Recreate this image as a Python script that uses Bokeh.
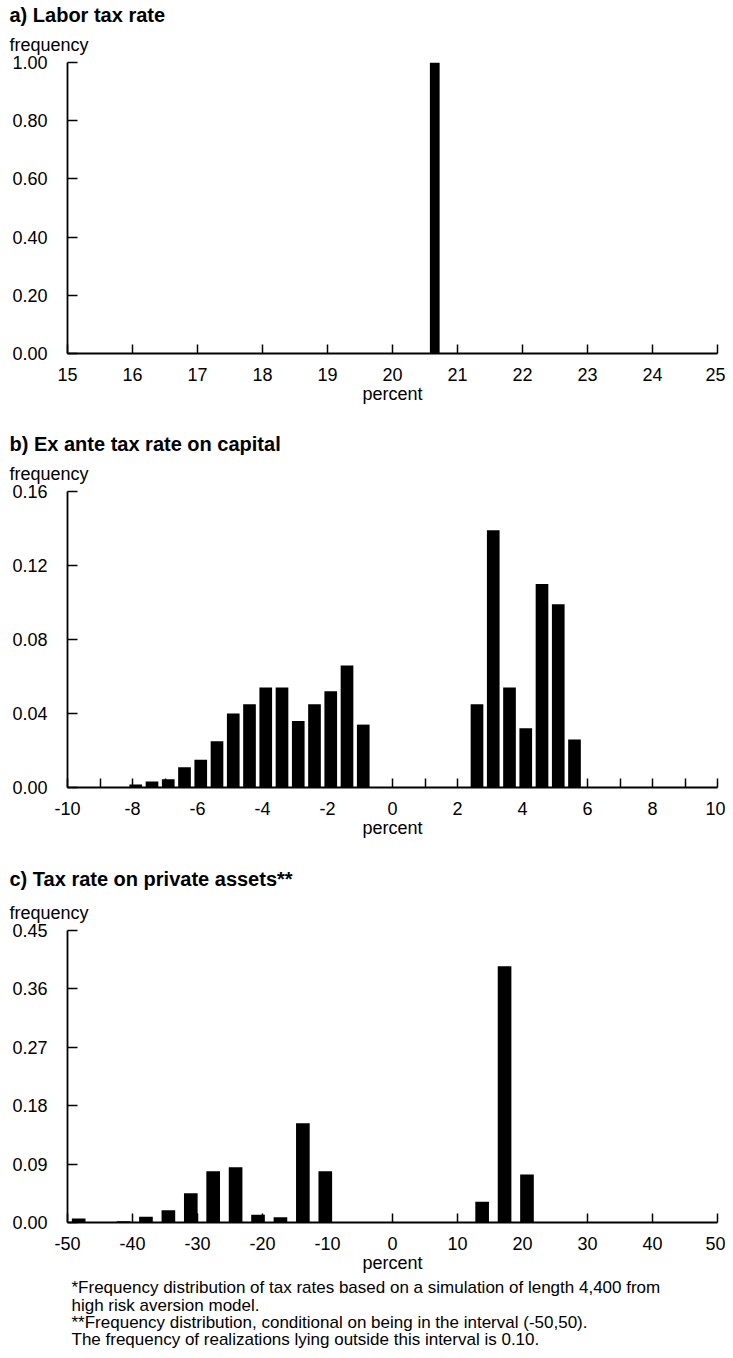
from bokeh.plotting import figure
from bokeh.models import Range1d, FixedTicker, Title, PrintfTickFormatter
from bokeh.layouts import column
from bokeh.embed import file_html
from bokeh.resources import INLINE

FONT = "Liberation Sans"

# ---------------- data ----------------
# a) Labor tax rate
labor_x = [20.65]
labor_freq = [1.00]
labor_xticks = [15, 16, 17, 18, 19, 20, 21, 22, 23, 24, 25]
labor_xtick_labels = ["15", "16", "17", "18", "19", "20", "21", "22", "23", "24", "25"]
labor_yticks = [0.0, 0.2, 0.4, 0.6, 0.8, 1.0]
labor_ytick_labels = ["0.00", "0.20", "0.40", "0.60", "0.80", "1.00"]

# b) Ex ante tax rate on capital
capital_x = [-7.9, -7.4, -6.9, -6.4, -5.9, -5.4, -4.9, -4.4, -3.9, -3.4, -2.9, -2.4,
             -1.9, -1.4, -0.9, 2.6, 3.1, 3.6, 4.1, 4.6, 5.1, 5.6]
capital_freq = [0.0016, 0.0032, 0.0045, 0.011, 0.015, 0.025, 0.040, 0.045, 0.054, 0.054,
                0.036, 0.045, 0.052, 0.066, 0.034, 0.045, 0.139, 0.054, 0.032, 0.110,
                0.099, 0.026]
capital_xticks = [-10, -8, -6, -4, -2, 0, 2, 4, 6, 8, 10]
capital_xtick_labels = ["-10", "-8", "-6", "-4", "-2", "0", "2", "4", "6", "8", "10"]
capital_xminor = [-9, -7, -5, -3, -1, 1, 3, 5, 7, 9]
capital_yticks = [0.0, 0.04, 0.08, 0.12, 0.16]
capital_ytick_labels = ["0.00", "0.04", "0.08", "0.12", "0.16"]

# c) Tax rate on private assets
assets_x = [-48.28, -41.38, -37.93, -34.48, -31.03, -27.59, -24.14, -20.69, -17.24,
            -13.79, -10.34, 13.79, 17.24, 20.69]
assets_freq = [0.006, 0.002, 0.009, 0.019, 0.045, 0.079, 0.085, 0.012, 0.008,
               0.153, 0.079, 0.032, 0.395, 0.074]
assets_xticks = [-50, -40, -30, -20, -10, 0, 10, 20, 30, 40, 50]
assets_xtick_labels = ["-50", "-40", "-30", "-20", "-10", "0", "10", "20", "30", "40", "50"]
assets_yticks = [0.0, 0.09, 0.18, 0.27, 0.36, 0.45]
assets_ytick_labels = ["0.00", "0.09", "0.18", "0.27", "0.36", "0.45"]

footnotes = [
    "*Frequency distribution of tax rates based on a simulation of length 4,400 from",
    "high risk aversion model.",
    "**Frequency distribution, conditional on being in the interval (-50,50).",
    "The frequency of realizations lying outside this interval is 0.10.",
]

FRAME_W = 650
LEFT = 67
RIGHT = 8


def make_panel(title, xs, tops, bar_w, x_ticks, x_labels, x_minor,
               y_ticks, y_labels, frame_h, b_top, b_bottom, freq_standoff, title_standoff):
    x0, x1 = x_ticks[0], x_ticks[-1]
    y1 = y_ticks[-1]
    p = figure(frame_width=FRAME_W, frame_height=frame_h,
               x_range=Range1d(x0, x1), y_range=Range1d(0, y1),
               output_backend="svg", toolbar_location=None,
               min_border_left=LEFT, min_border_right=RIGHT,
               min_border_top=b_top, min_border_bottom=b_bottom)
    p.outline_line_color = None
    p.xgrid.visible = False
    p.ygrid.visible = False
    p.background_fill_color = "white"
    p.border_fill_color = "white"

    p.vbar(x=xs, top=tops, width=bar_w, bottom=0, fill_color="black", line_color=None)

    xa = p.xaxis[0]
    xa.ticker = FixedTicker(ticks=x_ticks, minor_ticks=x_minor)
    xa.major_label_overrides = {t: l for t, l in zip(x_ticks, x_labels)}
    xa.major_tick_in = 9
    xa.major_tick_out = 0
    xa.minor_tick_in = 9
    xa.minor_tick_out = 0
    xa.major_tick_line_width = 1.5
    xa.minor_tick_line_width = 1.5
    xa.minor_tick_line_color = "black" if x_minor else None
    xa.axis_line_width = 1.8
    xa.major_label_text_font = FONT
    xa.major_label_text_font_size = "18px"
    xa.major_label_text_color = "black"
    xa.major_label_standoff = 14
    xa.axis_label = "percent"
    xa.axis_label_text_font = FONT
    xa.axis_label_text_font_size = "18px"
    xa.axis_label_text_font_style = "normal"
    xa.axis_label_text_color = "black"
    xa.axis_label_standoff = 0

    ya = p.yaxis[0]
    ya.ticker = FixedTicker(ticks=y_ticks, minor_ticks=[])
    ya.formatter = PrintfTickFormatter(format="%.2f")
    ya.major_label_overrides = {t: l for t, l in zip(y_ticks, y_labels)}
    ya.major_tick_in = 10
    ya.major_tick_out = 0
    ya.minor_tick_line_color = None
    ya.major_tick_line_width = 1.5
    ya.axis_line_width = 1.8
    ya.major_label_text_font = FONT
    ya.major_label_text_font_size = "18px"
    ya.major_label_text_color = "black"
    ya.major_label_standoff = 20

    # first added = closest to frame
    p.add_layout(Title(text="frequency", align="left", offset=-58, standoff=freq_standoff,
                       text_font=FONT, text_font_size="18px", text_font_style="normal",
                       text_color="black"), "above")
    p.add_layout(Title(text=title, align="left", offset=-58, standoff=title_standoff,
                       text_font=FONT, text_font_size="20px", text_font_style="bold",
                       text_color="black"), "above")
    return p


pa = make_panel("a) Labor tax rate", labor_x, labor_freq, 0.15,
                labor_xticks, labor_xtick_labels, [],
                labor_yticks, labor_ytick_labels,
                frame_h=291, b_top=62, b_bottom=76, freq_standoff=15, title_standoff=0)

pb = make_panel("b) Ex ante tax rate on capital", capital_x, capital_freq, 0.39,
                capital_xticks, capital_xtick_labels, capital_xminor,
                capital_yticks, capital_ytick_labels,
                frame_h=296, b_top=62, b_bottom=75, freq_standoff=15, title_standoff=0)

pc = make_panel("c) Tax rate on private assets**", assets_x, assets_freq, 2.1,
                assets_xticks, assets_xtick_labels, [],
                assets_yticks, assets_ytick_labels,
                frame_h=292, b_top=68, b_bottom=120, freq_standoff=16, title_standoff=5)

pc.add_layout(Title(text="\n".join(footnotes), align="left", offset=4, standoff=2,
                    text_font=FONT, text_font_size="17px", text_font_style="normal",
                    text_line_height=0.92, text_color="black"), "below")

layout = column(pa, pb, pc, spacing=0)
open("out.html", "w").write(file_html(layout, INLINE))
